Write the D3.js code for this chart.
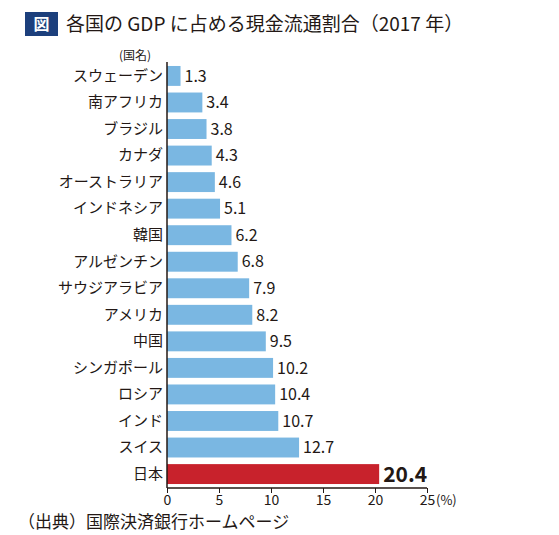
<!DOCTYPE html>
<html>
<head>
<meta charset="utf-8">
<script src="https://cdn.jsdelivr.net/npm/d3@7"></script>
<style>
  body { margin: 0; background: #fff; }
  text { font-family: "Noto Sans CJK JP", "Noto Sans", sans-serif; fill: #231815; }
</style>
</head>
<body>
<script>
var countries = ['スウェーデン', '南アフリカ', 'ブラジル', 'カナダ', 'オーストラリア', 'インドネシア', '韓国',
  'アルゼンチン', 'サウジアラビア', 'アメリカ', '中国', 'シンガポール', 'ロシア', 'インド', 'スイス', '日本'];
var shares = [1.3, 3.4, 3.8, 4.3, 4.6, 5.1, 6.2, 6.8, 7.9, 8.2, 9.5, 10.2, 10.4, 10.7, 12.7, 20.4];
var xTicks = [0, 5, 10, 15, 20, 25];
var highlight = '日本';

var scr = { w: 559, h: 535 };
var svg = d3.select('body').append('svg')
            .attr('width', scr.w)
            .attr('height', scr.h);

// title
svg.append('rect')
   .attr('x', 25).attr('y', 12).attr('width', 33).attr('height', 24)
   .attr('fill', '#1c3f7c');
svg.append('text')
   .attr('x', 41.5).attr('y', 30)
   .attr('text-anchor', 'middle')
   .style('fill', '#fff')
   .style('font-size', '16px')
   .style('font-weight', 'bold')
   .text('図');
svg.append('text')
   .attr('x', 66).attr('y', 31)
   .style('font-size', '19px')
   .text('各国の GDP に占める現金流通割合（2017 年）');

var xScale = d3.scaleLinear().domain([0, 25]).range([167, 427]);
var yScale = d3.scaleBand()
               .domain(countries)
               .range([62, 488])
               .paddingInner(0.25)
               .paddingOuter(0.15);

var bars = svg.append('g').selectAll('g')
              .data(countries)
              .enter()
              .append('g');

bars.append('rect')
    .attr('x', xScale(0))
    .attr('y', function(d){ return yScale(d); })
    .attr('width', function(d, i){ return xScale(shares[i]) - xScale(0); })
    .attr('height', yScale.bandwidth())
    .attr('fill', function(d){ return d === highlight ? '#c8222c' : '#7ab7e2'; });

bars.append('text')
    .attr('x', function(d, i){ return xScale(shares[i]) + 4; })
    .attr('y', function(d){ return yScale(d) + yScale.bandwidth() / 2; })
    .attr('dy', '0.36em')
    .style('font-size', function(d){ return d === highlight ? '21px' : '16px'; })
    .style('font-weight', function(d){ return d === highlight ? 'bold' : 'normal'; })
    .text(function(d, i){ return shares[i].toFixed(1); });

// country labels
var yAxis = d3.axisLeft(yScale).tickSize(0).tickPadding(4);
var gy = svg.append('g')
            .attr('transform', 'translate(' + xScale(0) + ',0)')
            .call(yAxis);
gy.select('.domain').attr('stroke', '#231815').attr('stroke-width', 1.5).attr('d', 'M0,62V488');
gy.selectAll('text')
  .attr('font-family', null)
  .style('font-size', '15px');

svg.append('text')
   .attr('x', 151).attr('y', 60)
   .attr('text-anchor', 'end')
   .style('font-size', '12px')
   .text('(国名)');

var xAxis = d3.axisBottom(xScale).tickValues(xTicks).tickSize(5).tickPadding(2);
var gx = svg.append('g')
            .attr('transform', 'translate(0,488)')
            .call(xAxis);
gx.select('.domain').attr('stroke', '#231815').attr('stroke-width', 1.5).attr('d', 'M' + xScale(0) + ',0H' + xScale(25));
gx.selectAll('.tick line').attr('stroke', '#231815');
gx.selectAll('text')
  .attr('font-family', null)
  .style('font-size', '14px');

svg.append('text')
   .attr('x', xScale(25) + 9).attr('y', 505)
   .style('font-size', '13px')
   .text('(%)');

svg.append('text')
   .attr('x', 18).attr('y', 528)
   .style('font-size', '17px')
   .text('（出典）国際決済銀行ホームページ');
</script>
</body>
</html>
